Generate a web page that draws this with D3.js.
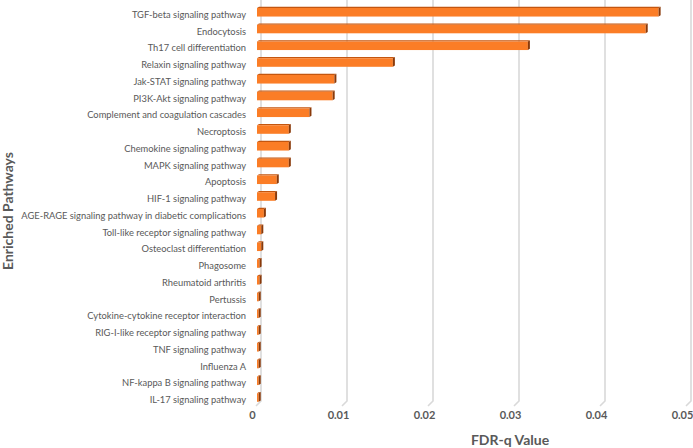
<!DOCTYPE html>
<html><head><meta charset="utf-8">
<script src="https://cdn.jsdelivr.net/npm/d3@7"></script>
<style>body{margin:0;background:#fff;}svg{display:block;}</style>
</head><body>
<svg id="c" width="693" height="448"></svg>
<script>
const categories = ["TGF-beta signaling pathway","Endocytosis","Th17 cell differentiation","Relaxin signaling pathway","Jak-STAT signaling pathway","PI3K-Akt signaling pathway","Complement and coagulation cascades","Necroptosis","Chemokine signaling pathway","MAPK signaling pathway","Apoptosis","HIF-1 signaling pathway","AGE-RAGE signaling pathway in diabetic complications","Toll-like receptor signaling pathway","Osteoclast differentiation","Phagosome","Rheumatoid arthritis","Pertussis","Cytokine-cytokine receptor interaction","RIG-I-like receptor signaling pathway","TNF signaling pathway","Influenza A","NF-kappa B signaling pathway","IL-17 signaling pathway"];
const fdrValues = [0.0467,0.0452,0.0315,0.0158,0.0090,0.0088,0.0061,0.0037,0.0037,0.0037,0.0023,0.0021,0.0008,0.0005,0.0005,0.0003,0.0003,0.0002,0.0002,0.0002,0.0002,0.0002,0.0002,0.0002];
const tickValues = [0,0.01,0.02,0.03,0.04,0.05];
const tickLabels = ["0","0.01","0.02","0.03","0.04","0.05"];
const xTitle = "FDR-q Value";
const yTitle = "Enriched Pathways";

const svg = d3.select("#c");
const FONT = "Lato, 'Open Sans', sans-serif";
const textCol = "#595959";
const x = d3.scaleLinear().domain([0,0.05]).range([257,687]);
const y = d3.scaleBand().domain(categories).range([3.9,405.9]).paddingInner(0.49).paddingOuter(0.245);
const dx = 4;

// gridlines on back wall + floor
const grid = svg.append("g");
tickValues.forEach(v=>{
  const gx = x(v)+dx;
  grid.append("path")
    .attr("d",`M${gx},0 L${gx},401 L${gx-5},406`)
    .attr("fill","none").attr("stroke","#d9d9d9").attr("stroke-width",1.6);
});

// bars (3D look)
const bars = svg.append("g");
const sideW = 2, topH = 1.2;
categories.forEach((c,i)=>{
  const v = fdrValues[i];
  const x0 = x(0), x1 = x(v);
  const yt = y(c), h = y.bandwidth();
  bars.append("path")
    .attr("d",`M${x0},${yt} L${x0+sideW},${yt-topH} L${x1+sideW},${yt-topH} L${x1},${yt} Z`)
    .attr("fill","#c4560f");
  bars.append("rect").attr("x",x0).attr("y",yt).attr("width",Math.max(0,x1-x0)).attr("height",h)
    .attr("fill","#fb7d26");
  bars.append("path")
    .attr("d",`M${x1},${yt} L${x1+sideW},${yt-topH} L${x1+sideW},${yt+h-topH} L${x1},${yt+h} Z`)
    .attr("fill","#8a3a0a");
});

// y axis labels
const yAxis = svg.append("g").attr("transform","translate(246,2.5)")
  .call(d3.axisLeft(y).tickSize(0).tickPadding(0));
yAxis.select(".domain").remove();
yAxis.selectAll("text").attr("fill",textCol).style("font-family",FONT).style("font-size","10px");
let maxW = 0;
yAxis.selectAll("text").each(function(){maxW=Math.max(maxW,this.getComputedTextLength());});
const fs = 10*225/maxW;
yAxis.selectAll("text").style("font-size",fs+"px");

// x axis labels
const xAxis = svg.append("g").attr("transform","translate(-5,411)")
  .call(d3.axisBottom(x).tickValues(tickValues).tickFormat((d,i)=>tickLabels[i]).tickSize(0).tickPadding(0));
xAxis.select(".domain").remove();
xAxis.selectAll("text").attr("fill",textCol).style("font-family",FONT).style("font-size","11px").style("font-weight","bold");

// titles
svg.append("text").attr("x",510).attr("y",445).attr("text-anchor","middle")
  .attr("fill",textCol).style("font-family",FONT).style("font-size","14px").style("font-weight","bold").text(xTitle);
svg.append("text").attr("transform","translate(13,211) rotate(-90)").attr("text-anchor","middle")
  .attr("fill",textCol).style("font-family",FONT).style("font-size","14px").style("font-weight","bold").text(yTitle);
</script>
</body></html>
